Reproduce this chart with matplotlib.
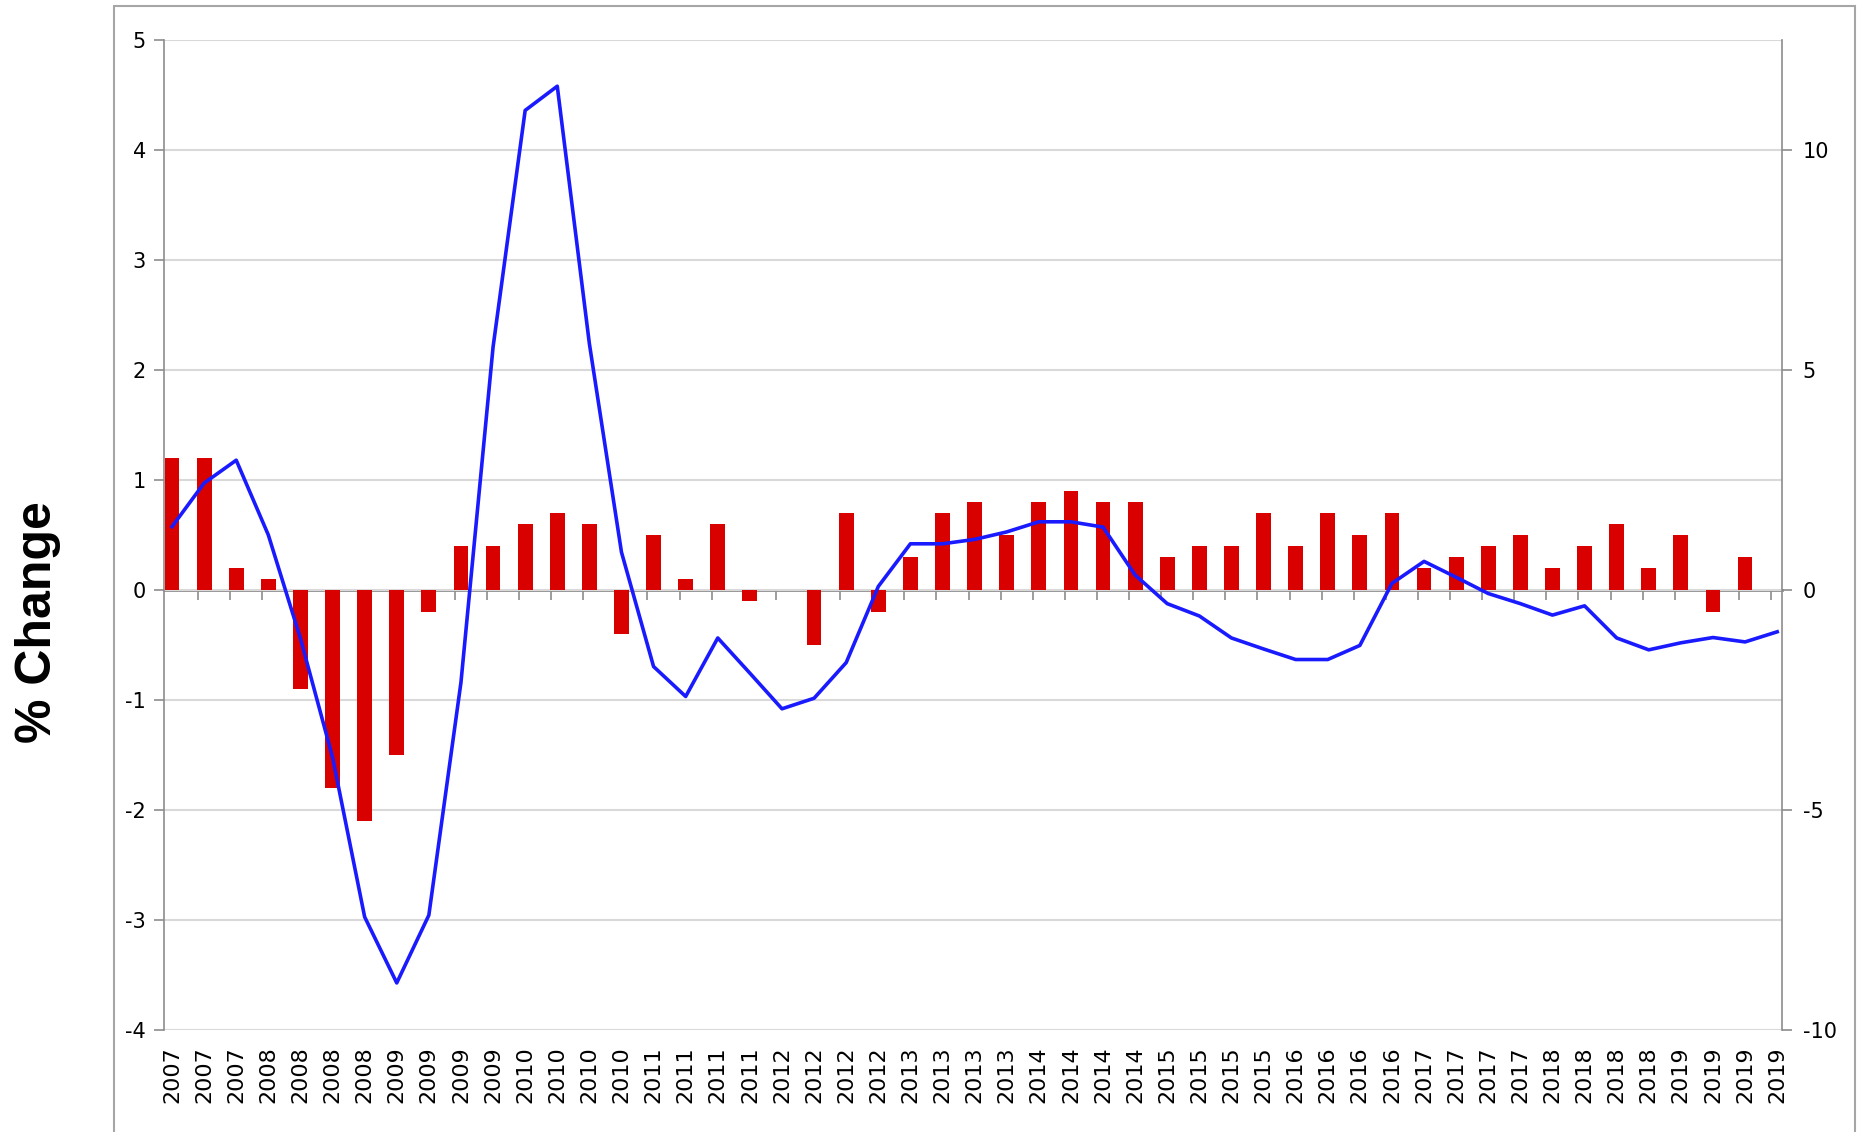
import numpy as np
import matplotlib
matplotlib.use("Agg")
import matplotlib.pyplot as plt
from matplotlib.patches import Rectangle

plt.rcParams["axes.unicode_minus"] = False

# quarterly labels, 2007 Q2 .. 2019 Q4
labels = ["2007"] * 3 + [str(y) for y in range(2008, 2020) for _ in range(4)]

# red bars, left axis (% change)
bar_vals = [1.2, 1.2, 0.2, 0.1, -0.9, -1.8, -2.1, -1.5, -0.2, 0.4,
            0.4, 0.6, 0.7, 0.6, -0.4, 0.5, 0.1, 0.6, -0.1, 0.0,
            -0.5, 0.7, -0.2, 0.3, 0.7, 0.8, 0.5, 0.8, 0.9, 0.8,
            0.8, 0.3, 0.4, 0.4, 0.7, 0.4, 0.7, 0.5, 0.7, 0.2,
            0.3, 0.4, 0.5, 0.2, 0.4, 0.6, 0.2, 0.5, -0.2, 0.3,
            np.nan]

# blue line, right axis
line_vals = [1.44, 2.43, 2.95, 1.25, -1.1, -3.8, -7.43, -8.93, -7.39, -2.1,
             5.52, 10.9, 11.45, 5.6, 0.86, -1.74, -2.42, -1.09, -1.89, -2.7,
             -2.46, -1.65, 0.08, 1.05, 1.05, 1.15, 1.32, 1.55, 1.55, 1.43,
             0.34, -0.31, -0.59, -1.09, -1.34, -1.58, -1.58, -1.26, 0.15, 0.65,
             0.29, -0.08, -0.31, -0.57, -0.36, -1.09, -1.36, -1.2, -1.08, -1.18,
             -0.95]

GRAY = "#8c8c8c"
RED = "#d90000"
W, H = 1866, 1132

fig = plt.figure(figsize=(W / 100, H / 100), dpi=100)
ax = fig.add_axes([164 / W, 1 - 1030 / H, (1782 - 164) / W, (1030 - 40) / H])

x = np.arange(len(labels))
ax.bar(x, bar_vals, width=0.46, color=RED, lw=0, zorder=2)
ax.set_xlim(-0.25, 50.15)
ax.set_ylim(-4, 5)
ax.set_yticks(range(-4, 6))
ax.grid(axis="y", color="#d9d9d9", lw=1.5)
ax.set_axisbelow(True)

ax.set_xticks(x)
ax.set_xticklabels(labels, rotation=90, fontsize=16, family="DejaVu Sans")
ax.tick_params(axis="x", length=0, pad=12)
ax.tick_params(axis="y", direction="out", length=7, width=1.2, color=GRAY,
               pad=6, labelsize=15)
for t in ax.get_yticklabels():
    t.set_family("DejaVu Sans")
for s in ["top", "bottom", "right"]:
    ax.spines[s].set_visible(False)
ax.spines["left"].set_color(GRAY)
ax.spines["left"].set_linewidth(1.2)

# category axis crossing at zero, with its tick marks
sec = ax.secondary_xaxis(0, transform=ax.transData)
sec.set_xticks(x[:-1] + 0.81)
sec.set_xticklabels([])
sec.tick_params(length=7, width=1.2, color=GRAY, direction="out")
sec.spines["bottom"].set_color(GRAY)
sec.spines["bottom"].set_linewidth(2)

# line on the secondary y axis
ax2 = ax.twinx()
ax2.plot(x, line_vals, color="#1a1aff", lw=2.6, zorder=3)
ax2.set_ylim(-10, 12.5)
ax2.set_yticks([-10, -5, 0, 5, 10])
ax2.tick_params(axis="y", direction="out", length=7, width=1.2, color=GRAY,
                pad=8, labelsize=15)
for t in ax2.get_yticklabels():
    t.set_family("DejaVu Sans")
for s in ["top", "bottom", "left"]:
    ax2.spines[s].set_visible(False)
ax2.spines["right"].set_color(GRAY)
ax2.spines["right"].set_linewidth(1.2)

# y-axis title
fig.text(38 / W, 1 - 622 / H, "% Change", rotation=90, ha="center", va="center",
         fontsize=36, fontweight="bold", family="Liberation Sans")

# outer chart frame
fig.add_artist(Rectangle((114 / W, -0.01), (1855 - 114) / W, 1 - 6 / H + 0.01,
                         transform=fig.transFigure, fill=False,
                         ec="#a6a6a6", lw=1.5))

fig.savefig("out.png", dpi=100)
